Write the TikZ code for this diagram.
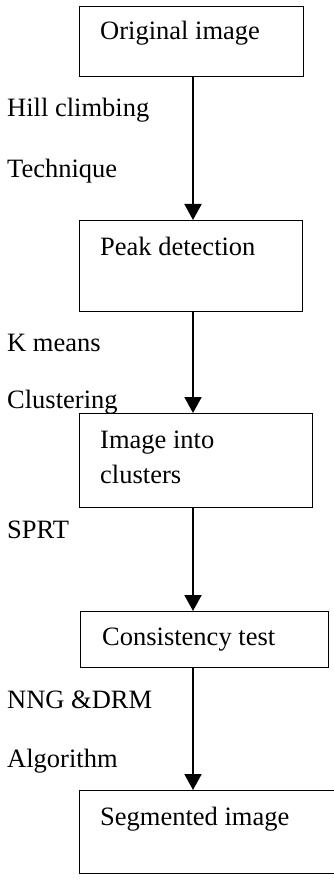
\documentclass[tikz,border=0pt]{standalone}
\usepackage{fontspec}
\setmainfont{Liberation Serif}
\usetikzlibrary{arrows.meta}

\tikzset{
  stage/.style={draw, line width=1.2pt, anchor=north west, inner sep=0pt},
  stagetext/.style={anchor=base west, inner sep=0pt, align=left,
    font=\fontsize{26.5}{35}\selectfont},
  flow/.style={line width=2pt, -{Triangle[width=17pt,length=16pt]}},
}

\begin{document}
\begin{tikzpicture}[x=1pt,y=-1pt]
  \useasboundingbox (0,0) rectangle (334,882);

  % Etapes
  \node[stage, minimum width=224pt, minimum height=70pt] (orig) at (79,6) {};
  \node[stage, minimum width=223pt, minimum height=91pt] (peak) at (79,220) {};
  \node[stage, minimum width=233pt, minimum height=94pt] (clus) at (79,413) {};
  \node[stage, minimum width=248pt, minimum height=56pt] (cons) at (80,611) {};
  \node[stage, minimum width=262pt, minimum height=83pt] (segm) at (79,790) {};

  % Textes des etapes (base = derniere ligne)
  \node[stagetext] (origtxt) at (100,40) {Original image};
  \node[stagetext] (peaktxt) at (100,255) {Peak detection};
  \node[stagetext] (clustxt) at (100,483) {Image into\\clusters};
  \node[stagetext] (constxt) at (102,645) {Consistency test};
  \node[stagetext] (segmtxt) at (100,825) {Segmented image};

  % Fleches
  \coordinate (axis) at (193,0);
  \draw[flow] (orig.south -| axis) -- (peak.north -| axis);
  \draw[flow] (peak.south -| axis) -- (clus.north -| axis);
  \draw[flow] (clus.south -| axis) -- (cons.north -| axis);
  \draw[flow] (cons.south -| axis) -- (segm.north -| axis);

  % Methodes
  \node[stagetext] (hill) at (7,117) {Hill climbing};
  \node[stagetext] (tech) at (7,178) {Technique};
  \node[stagetext] (kmea) at (7,351) {K means};
  \node[stagetext] (kclu) at (7,408) {Clustering};
  \node[stagetext] (sprt) at (7,538) {SPRT};
  \node[stagetext] (nngd) at (7,708) {NNG \&DRM};
  \node[stagetext] (algo) at (7,767) {Algorithm};
\end{tikzpicture}
\end{document}
